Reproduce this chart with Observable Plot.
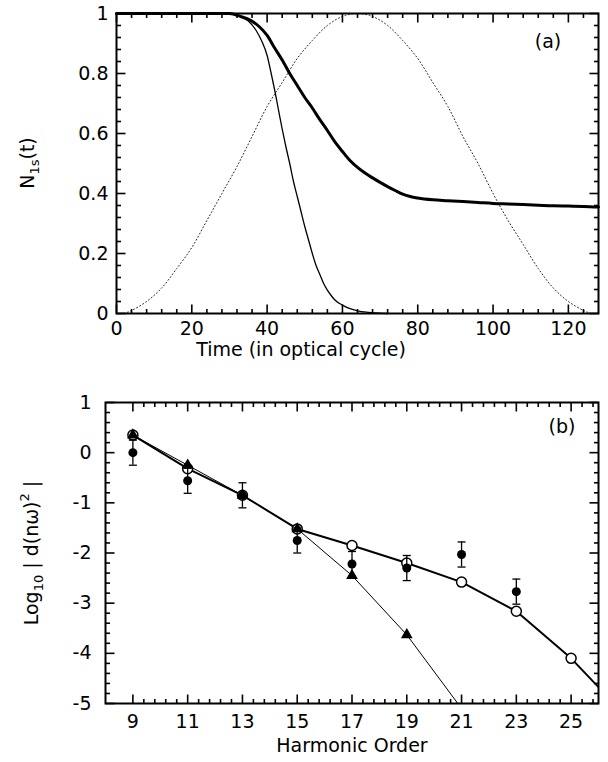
<!DOCTYPE html>
<html><head><meta charset="utf-8">
<script src="https://cdn.jsdelivr.net/npm/d3@7"></script>
<script src="https://cdn.jsdelivr.net/npm/@observablehq/plot@0.6"></script>
<style>body{margin:0;background:#fff} svg{display:block}</style>
</head><body><div id="chart"></div>
<script>
// ---------- Panel (a) data: N_1s(t) ----------
const thinCurve = [[0,1],[30,1],[33,0.99],[35,0.975],[37,0.945],[38.5,0.91],[40,0.86],[41,0.805],[42,0.745],[43,0.68],[44,0.615],[45,0.555],[46,0.5],[47,0.44],[48,0.39],[49,0.34],[50,0.29],[51,0.245],[52,0.2],[53,0.16],[54,0.13],[55,0.1],[56,0.078],[57,0.06],[58,0.045],[60,0.028],[62,0.016],[64,0.009],[67,0.004],[70,0.001],[72,0]];
const thickCurve = [[0,1],[30,1],[33,0.99],[35.6,0.977],[38,0.955],[40,0.927],[42,0.885],[44,0.845],[46,0.8],[48,0.76],[50,0.72],[52,0.685],[54,0.646],[56,0.61],[58,0.572],[60,0.54],[62,0.51],[64,0.487],[66,0.468],[68,0.452],[70,0.437],[72,0.423],[74,0.41],[76,0.398],[78,0.39],[80,0.385],[84,0.379],[88,0.376],[92,0.373],[96,0.37],[100,0.367],[104,0.365],[108,0.363],[112,0.361],[116,0.359],[120,0.358],[124,0.357],[128,0.355]];
const pulseCurve = [[2,0],[4,0.01],[8,0.04],[12,0.085],[16,0.15],[20,0.22],[24,0.31],[28,0.4],[32,0.49],[36,0.59],[40,0.69],[44,0.77],[48,0.85],[52,0.91],[56,0.96],[60,0.99],[64,1],[68,0.99],[72,0.96],[76,0.91],[80,0.85],[84,0.77],[88,0.69],[92,0.59],[96,0.5],[100,0.4],[104,0.31],[108,0.23],[112,0.15],[116,0.085],[120,0.04],[124,0.01],[126,0]];
const topXTicks = [0,20,40,60,80,100,120];
const topYTicks = [0,0.2,0.4,0.6,0.8,1];

// ---------- Panel (b) data: harmonic spectra ----------
const harmonics = [9,11,13,15,17,19,21,23,25,27];
const openCircleVals = [0.35,-0.32,-0.85,-1.52,-1.85,-2.2,-2.58,-3.16,-4.1,-5.25];
const triangleOrders = [9,11,13,15,17,19,21];
const triangleVals = [0.35,-0.25,-0.85,-1.52,-2.45,-3.63,-5.1];
const expOrders = [9,11,13,15,17,19,21,23];
const expVals = [0.0,-0.56,-0.85,-1.75,-2.22,-2.3,-2.03,-2.77];
const expErr = [0.25,0.25,0.25,0.25,0.25,0.25,0.25,0.25];
const botXTicks = [9,11,13,15,17,19,21,23,25];
const botYTicks = [1,0,-1,-2,-3,-4,-5];

const font = "DejaVu Sans, sans-serif";
const FS = 19;

// tick segment symbol: a line from the anchor point in direction (dx, dy), length r
const seg = (dx, dy) => ({draw(ctx, size) { const r = Math.sqrt(size / Math.PI); ctx.moveTo(0, 0); ctx.lineTo(dx * r, dy * r); }});
const segUp = seg(0, -1), segDown = seg(0, 1), segRight = seg(1, 0), segLeft = seg(-1, 0);

function inwardTicks({xd, yd, xMaj, xMin, yMaj, yMin, Lmaj = 9, Lmin = 4.5}) {
  const sw = 1.6, marks = [];
  const opts = {fill: "none", stroke: "black", strokeWidth: sw};
  for (const [vals, L] of [[xMaj, Lmaj], [xMin, Lmin]]) {
    marks.push(Plot.dot(vals, {x: d => d, y: () => yd[0], symbol: segUp, r: L, ...opts}));
    marks.push(Plot.dot(vals, {x: d => d, y: () => yd[1], symbol: segDown, r: L, ...opts}));
  }
  for (const [vals, L] of [[yMaj, Lmaj], [yMin, Lmin]]) {
    marks.push(Plot.dot(vals, {y: d => d, x: () => xd[0], symbol: segRight, r: L, ...opts}));
    marks.push(Plot.dot(vals, {y: d => d, x: () => xd[1], symbol: segLeft, r: L, ...opts}));
  }
  return marks;
}
const near = (a, b) => Math.abs(a - b) < 1e-6;
const fmt = d => String(d);

// ---------- Panel (a) ----------
const topMinX = d3.range(4, 128, 4).filter(v => !topXTicks.some(t => near(t, v)));
const topMinY = d3.range(0.04, 0.999, 0.04).filter(v => !topYTicks.some(t => near(t, v)));
const topPlot = Plot.plot({
  width: 608, height: 362,
  marginLeft: 116, marginRight: 10, marginTop: 13, marginBottom: 49,
  x: {domain: [0, 128]}, y: {domain: [0, 1]},
  style: {fontFamily: font, fontSize: FS + "px", color: "black", background: "white", overflow: "visible"},
  marks: [
    Plot.axisX(topXTicks, {tickSize: 0, tickPadding: 8, label: null, fontSize: FS, tickFormat: fmt}),
    Plot.axisY(topYTicks, {tickSize: 0, tickPadding: 8, label: null, fontSize: FS, tickFormat: fmt}),
    Plot.line(pulseCurve, {x: d => d[0], y: d => d[1], curve: "catmull-rom", stroke: "#222", strokeWidth: 1, strokeDasharray: "1,2.5"}),
    Plot.line(thinCurve, {x: d => d[0], y: d => d[1], curve: "monotone-x", stroke: "black", strokeWidth: 1.3}),
    Plot.line(thickCurve, {x: d => d[0], y: d => d[1], curve: "monotone-x", stroke: "black", strokeWidth: 3}),
    ...inwardTicks({xd: [0, 128], yd: [0, 1], xMaj: topXTicks, xMin: topMinX, yMaj: topYTicks, yMin: topMinY}),
    Plot.frame({stroke: "black", strokeWidth: 2})
  ]
});
{
  const s = d3.select(topPlot);
  const t = s.append("text").attr("transform", "translate(34,163) rotate(-90)")
    .attr("text-anchor", "middle").attr("font-family", font).attr("font-size", FS).attr("fill", "black");
  t.append("tspan").text("N");
  t.append("tspan").attr("font-size", 13).attr("dy", 5).text("1s");
  t.append("tspan").attr("dy", -5).text("(t)");
  s.append("text").attr("x", 301).attr("y", 356).attr("text-anchor", "middle")
    .attr("font-family", font).attr("font-size", FS).text("Time (in optical cycle)");
  s.append("text").attr("x", 548).attr("y", 48).attr("text-anchor", "middle")
    .attr("font-family", font).attr("font-size", FS).text("(a)");
}

// ---------- Panel (b) ----------
const botMinX = d3.range(9.4, 25.99, 0.4).filter(v => !botXTicks.some(t => near(t, v)));
const botMinY = d3.range(-4.8, 0.999, 0.2).filter(v => !botYTicks.some(t => near(t, v)));
const openPts = harmonics.map((h, i) => ({h, v: openCircleVals[i]}));
const triPts = triangleOrders.map((h, i) => ({h, v: triangleVals[i]}));
const expPts = expOrders.map((h, i) => ({h, v: expVals[i], lo: expVals[i] - expErr[i], hi: expVals[i] + expErr[i]}));
const capSymbol = {draw(ctx, size) { const w = Math.sqrt(size / Math.PI); ctx.moveTo(-w, 0); ctx.lineTo(w, 0); }};

const botPlot = Plot.plot({
  width: 608, height: 400,
  marginLeft: 105, marginRight: 10, marginTop: 40, marginBottom: 59,
  x: {domain: [8, 26]}, y: {domain: [-5, 1]},
  style: {fontFamily: font, fontSize: FS + "px", color: "black", background: "white", overflow: "visible"},
  marks: [
    Plot.axisX(botXTicks, {tickSize: 0, tickPadding: 11, label: null, fontSize: FS, tickFormat: fmt}),
    Plot.axisY(botYTicks, {tickSize: 0, tickPadding: 14, label: null, fontSize: FS, tickFormat: fmt}),
    Plot.line(triPts, {x: "h", y: "v", stroke: "black", strokeWidth: 1, clip: true}),
    Plot.line(openPts, {x: "h", y: "v", stroke: "black", strokeWidth: 2, clip: true}),
    Plot.dot(openPts, {x: "h", y: "v", r: 5, fill: "white", stroke: "black", strokeWidth: 1.5, clip: true}),
    Plot.dot(triPts, {x: "h", y: "v", r: 3.4, symbol: "triangle", fill: "black", stroke: "black", clip: true}),
    Plot.ruleX(expPts, {x: "h", y1: "lo", y2: "hi", stroke: "black", strokeWidth: 1.3}),
    Plot.dot(expPts, {x: "h", y: "lo", r: 4, symbol: capSymbol, fill: "none", stroke: "black", strokeWidth: 1.3}),
    Plot.dot(expPts, {x: "h", y: "hi", r: 4, symbol: capSymbol, fill: "none", stroke: "black", strokeWidth: 1.3}),
    Plot.dot(expPts, {x: "h", y: "v", r: 4.5, fill: "black"}),
    ...inwardTicks({xd: [8, 26], yd: [-5, 1], xMaj: botXTicks, xMin: botMinX, yMaj: botYTicks, yMin: botMinY}),
    Plot.frame({stroke: "black", strokeWidth: 2})
  ]
});
{
  const s = d3.select(botPlot);
  const t = s.append("text").attr("transform", "translate(38,191) rotate(-90)")
    .attr("text-anchor", "middle").attr("font-family", font).attr("font-size", FS).attr("fill", "black");
  t.append("tspan").text("Log");
  t.append("tspan").attr("font-size", 13).attr("dy", 5).text("10");
  t.append("tspan").attr("dy", -5).text(" | d(n\u03c9)");
  t.append("tspan").attr("font-size", 13).attr("dy", -9).text("2");
  t.append("tspan").attr("dy", 9).text(" |");
  s.append("text").attr("x", 352).attr("y", 390).attr("text-anchor", "middle")
    .attr("font-family", font).attr("font-size", FS).text("Harmonic Order");
  s.append("text").attr("x", 562).attr("y", 71).attr("text-anchor", "middle")
    .attr("font-family", font).attr("font-size", FS).text("(b)");
}

document.getElementById("chart").append(topPlot, botPlot);
</script>
</body></html>
